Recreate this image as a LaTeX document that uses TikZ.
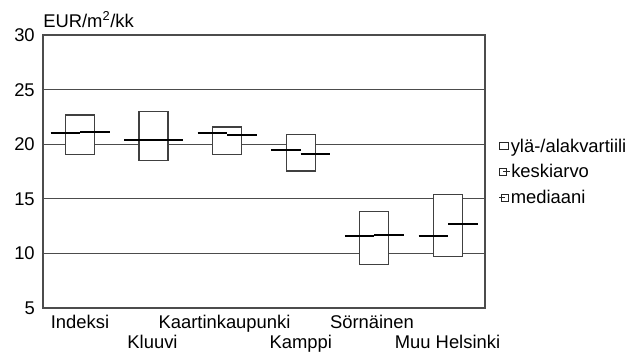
\documentclass[tikz,border=0pt]{standalone}
\usepackage{fontspec}
\setmainfont{Liberation Sans}
\begin{document}
\begin{tikzpicture}[x=0.75pt,y=-0.75pt,
  lbl/.style={font=\fontsize{13.8}{16}\selectfont, inner sep=0pt},
  grid/.style={draw=black!70, line width=0.8pt},
  frame/.style={draw=black!70, line width=0.9pt},
  qbox/.style={draw=black!75, fill=white, line width=0.8pt},
  stat/.style={draw=black, line width=1.5pt},
  icon/.style={draw=black!85, line width=0.75pt}]
\useasboundingbox (0,0) rectangle (640,351);
% grid lines
\foreach \yy in {89.6,144.2,198.8,253.4} \draw[grid] (43,\yy) -- (485,\yy);
% frame
\draw[frame] (43,35) -- (485,35) -- (485,308) -- (43,308) -- cycle;
% tick labels
\node[lbl, anchor=base east] (t30) at (35,41.5) {30};
\node[lbl, anchor=base east] (t25) at (35,96.1) {25};
\node[lbl, anchor=base east] (t20) at (35,150.7) {20};
\node[lbl, anchor=base east] (t15) at (35,205.3) {15};
\node[lbl, anchor=base east] (t10) at (35,259.9) {10};
\node[lbl, anchor=base east] (t5) at (35,314.5) {5};
\node[lbl, anchor=base west] (unit) at (43,27) {EUR/m\textsuperscript{2}/kk};
% boxes: center, top, bottom, median, mean
\foreach \c/\t/\b/\md/\mn in {80/115/154.7/133.3/131.5,
                              153.5/111.7/160.3/140.3/140.3,
                              227/127/154.7/133/135,
                              300.7/134.7/171/149.7/153.7,
                              374.3/211.3/264.7/235.7/234.7,
                              448/194.3/256.3/236.3/224}{
  \draw[qbox] (\c-14.5,\t) rectangle (\c+14.5,\b);
  \draw[stat] (\c-29.5,\md) -- (\c,\md);
  \draw[stat] (\c,\mn) -- (\c+29.5,\mn);
}
% x labels
\node[lbl, anchor=base] (x1) at (80,328) {Indeksi};
\node[lbl, anchor=base] (x2) at (152.5,348.5) {Kluuvi};
\node[lbl, anchor=base] (x3) at (224.5,328) {Kaartinkaupunki};
\node[lbl, anchor=base] (x4) at (300.7,348.5) {Kamppi};
\node[lbl, anchor=base] (x5) at (372,328) {Sörnäinen};
\node[lbl, anchor=base] (x6) at (447.5,348.5) {Muu Helsinki};
% legend
\draw[icon] (499.5,142.5) rectangle (508.5,149.5);
\node[lbl, anchor=base west] (l1) at (510.5,152.5) {ylä-/alakvartiili};
\draw[icon] (499.5,168) rectangle (506.5,175);
\draw[icon] (503,171.5) -- (509.5,171.5);
\node[lbl, anchor=base west] (l2) at (511,177.5) {keskiarvo};
\draw[icon] (501.5,194) rectangle (508.5,201);
\draw[icon] (499,197.5) -- (505,197.5);
\node[lbl, anchor=base west] (l3) at (510.5,203.3) {mediaani};
\end{tikzpicture}
\end{document}
